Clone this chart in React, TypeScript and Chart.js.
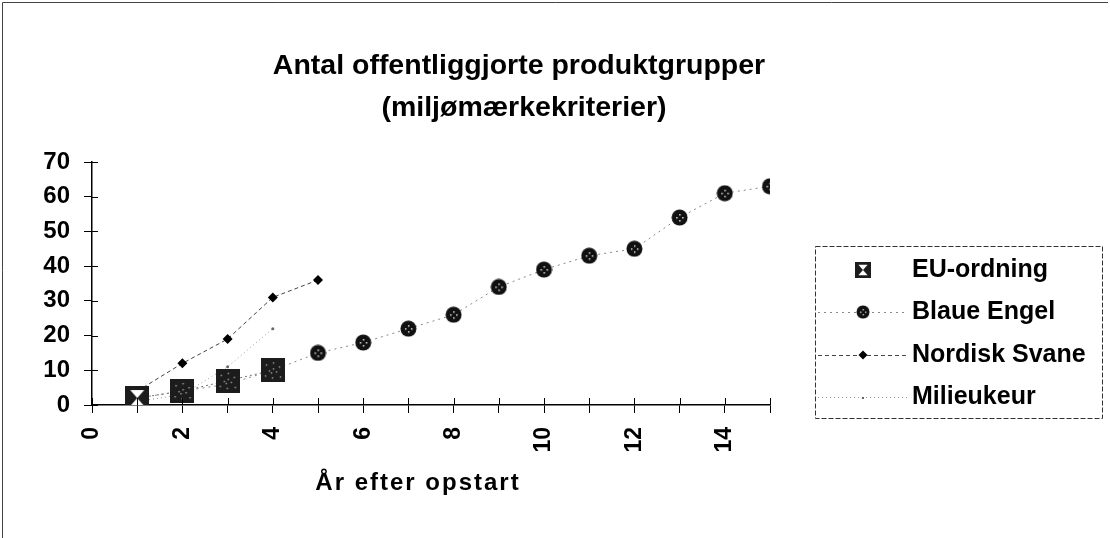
import React, { useEffect, useRef } from "react";
import { Chart, registerables } from "chart.js";

Chart.register(...registerables);

const titleLines = ["Antal offentliggjorte produktgrupper", "(miljømærkekriterier)"];
const xTitle = "År efter opstart";
const years = [1, 2, 3, 4, 5, 6, 7, 8, 9, 10, 11, 12, 13, 14, 15];
const euOrdning = [2, 4, 7, 10];
const blaueEngel = [2, 4, 6, 10, 15, 18, 22, 26, 34, 39, 43, 45, 54, 61, 63];
const nordiskSvane = [4, 12, 19, 31, 36];
const milieukeur = [1, 3, 11, 22];
const seriesNames = ["EU-ordning", "Blaue Engel", "Nordisk Svane", "Milieukeur"];

const FONT = '"Liberation Sans", Arial, sans-serif';

function toPoints(arr: number[]) {
  return arr.map((v, i) => ({ x: years[i], y: v }));
}

function makeCircle() {
  const c = document.createElement("canvas");
  c.width = 17;
  c.height = 17;
  const g = c.getContext("2d")!;
  g.fillStyle = "#111";
  g.beginPath();
  g.arc(8.5, 8.5, 8, 0, Math.PI * 2);
  g.fill();
  g.fillStyle = "#ddd";
  [[8, 5], [5, 8], [11, 8], [8, 11]].forEach(([x, y]) => g.fillRect(x, y, 1.5, 1.5));
  return c;
}

function makeSquare(cross: boolean) {
  const c = document.createElement("canvas");
  c.width = 24;
  c.height = 24;
  const g = c.getContext("2d")!;
  g.fillStyle = "#1c1c1c";
  g.fillRect(0, 0, 24, 24);
  if (cross) {
    g.fillStyle = "#fff";
    g.beginPath();
    g.moveTo(5, 4);
    g.lineTo(19, 4);
    g.lineTo(12, 12);
    g.closePath();
    g.fill();
    g.beginPath();
    g.moveTo(5, 20);
    g.lineTo(19, 20);
    g.lineTo(12, 12);
    g.closePath();
    g.fill();
  } else {
    g.fillStyle = "#bbb";
    [[5, 6], [12, 4], [18, 8], [8, 12], [15, 13], [4, 17], [11, 19], [19, 18], [12, 10], [10, 14]].forEach(([x, y]) =>
      g.fillRect(x, y, 1.3, 1.3)
    );
  }
  return c;
}

export default function App() {
  const ref = useRef<HTMLCanvasElement>(null);

  useEffect(() => {
    const canvas = ref.current!;
    const circle = makeCircle();
    const sq = makeSquare(false);
    const sqX = makeSquare(true);

    const extrasPlugin = {
      id: "extras",
      afterDraw(chart: any) {
        const ctx = chart.ctx;
        const xs = chart.scales.x;
        const ys = chart.scales.y;
        const x0 = xs.getPixelForValue(0);
        const y0 = ys.getPixelForValue(0);
        ctx.save();
        // frame
        ctx.strokeStyle = "#444";
        ctx.lineWidth = 1;
        ctx.beginPath();
        ctx.moveTo(2.5, 538);
        ctx.lineTo(2.5, 2.5);
        ctx.lineTo(1108, 2.5);
        ctx.stroke();
        // inner tick halves
        ctx.strokeStyle = "#000";
        ctx.lineWidth = 1;
        ctx.beginPath();
        for (let v = 0; v <= 15; v++) {
          const px = Math.round(xs.getPixelForValue(v)) + 0.5;
          ctx.moveTo(px, y0);
          ctx.lineTo(px, y0 - 7);
        }
        for (let v = 0; v <= 70; v += 10) {
          const py = Math.round(ys.getPixelForValue(v)) + 0.5;
          ctx.moveTo(x0, py);
          ctx.lineTo(x0 + 6, py);
        }
        ctx.stroke();
        // title
        ctx.fillStyle = "#000";
        ctx.font = "bold 28.5px " + FONT;
        ctx.textAlign = "center";
        ctx.textBaseline = "middle";
        ctx.fillText(titleLines[0], 519, 66);
        ctx.fillText(titleLines[1], 524, 108);
        // x-axis title
        ctx.font = "bold 24px " + FONT;
        (ctx as any).letterSpacing = "2px";
        ctx.fillText(xTitle, 418, 483);
        (ctx as any).letterSpacing = "0px";
        // legend
        const bx = 815, by = 246, bw = 287, bh = 172;
        ctx.strokeStyle = "#333";
        ctx.setLineDash([5, 2]);
        ctx.strokeRect(bx + 0.5, by + 0.5, bw, bh);
        const rowY = [270, 312, 355, 397];
        const mx = 863;
        const ds = chart.data.datasets;
        rowY.forEach((ry, i) => {
          const d = ds[i];
          ctx.strokeStyle = d.borderColor;
          ctx.lineWidth = 1;
          ctx.setLineDash(d.borderDash || []);
          if (i > 0) {
            ctx.beginPath();
            ctx.moveTo(818, ry + 0.5);
            ctx.lineTo(908, ry + 0.5);
            ctx.stroke();
          }
          ctx.setLineDash([]);
          if (i === 0) {
            ctx.drawImage(sqX, mx - 8, ry - 8, 16, 16);
          } else if (i === 1) {
            ctx.drawImage(circle, mx - 7, ry - 7, 14, 14);
          } else if (i === 2) {
            ctx.fillStyle = "#000";
            ctx.beginPath();
            ctx.moveTo(mx, ry - 4.5);
            ctx.lineTo(mx + 4.5, ry);
            ctx.lineTo(mx, ry + 4.5);
            ctx.lineTo(mx - 4.5, ry);
            ctx.closePath();
            ctx.fill();
          } else {
            ctx.fillStyle = "#666";
            ctx.fillRect(mx - 1, ry, 2, 2);
          }
          ctx.fillStyle = "#000";
          ctx.font = "bold 25px " + FONT;
          ctx.textAlign = "left";
          ctx.textBaseline = "middle";
          ctx.fillText(seriesNames[i], 912, ry);
        });
        ctx.restore();
      },
    };

    const chart = new Chart(canvas, {
      type: "scatter",
      data: {
        datasets: [
          {
            label: seriesNames[0],
            data: toPoints(euOrdning),
            showLine: true,
            borderColor: "#777",
            borderWidth: 1,
            borderDash: [2, 3],
            pointStyle: euOrdning.map((_, i) => (i === 0 ? sqX : sq)) as any,
            backgroundColor: "#1c1c1c",
          },
          {
            label: seriesNames[1],
            data: toPoints(blaueEngel),
            showLine: true,
            borderColor: "#888",
            borderWidth: 1,
            borderDash: [2, 4],
            pointStyle: circle as any,
            backgroundColor: "#111",
          },
          {
            label: seriesNames[2],
            data: toPoints(nordiskSvane),
            showLine: true,
            borderColor: "#444",
            borderWidth: 1,
            borderDash: [4, 3],
            pointStyle: "rectRot",
            pointRadius: 5,
            pointBorderWidth: 0,
            backgroundColor: "#000",
            pointBackgroundColor: "#000",
          },
          {
            label: seriesNames[3],
            data: toPoints(milieukeur),
            showLine: true,
            borderColor: "#999",
            borderWidth: 1,
            borderDash: [1, 3],
            pointRadius: 1.5,
            pointBorderWidth: 0,
            pointBackgroundColor: "#666",
            backgroundColor: "#666",
          },
        ],
      },
      options: {
        responsive: false,
        animation: false,
        devicePixelRatio: 1,
        layout: { padding: { top: 162, right: 340, bottom: 58, left: 0 } },
        plugins: {
          legend: { display: false },
          title: { display: false },
          tooltip: { enabled: false },
        },
        scales: {
          x: {
            type: "linear",
            min: 0,
            max: 15,
            afterFit: (s: any) => {
              s.height = 75;
            },
            ticks: {
              stepSize: 1,
              autoSkip: false,
              minRotation: 90,
              maxRotation: 90,
              padding: 14,
              color: "#000",
              font: { family: FONT, size: 23, weight: "bold" },
              callback: (v: any) => (Number(v) % 2 === 0 ? String(v) : ""),
            },
            grid: { drawOnChartArea: false, drawTicks: true, tickLength: 8, color: "#000" },
            border: { display: true, color: "#000", width: 1.5 },
            title: { display: false },
          },
          y: {
            type: "linear",
            min: 0,
            max: 70,
            afterFit: (s: any) => {
              s.width = 92;
            },
            ticks: {
              stepSize: 10,
              padding: 14,
              color: "#000",
              font: { family: FONT, size: 24, weight: "bold" },
            },
            grid: { drawOnChartArea: false, drawTicks: true, tickLength: 8, color: "#000" },
            border: { display: true, color: "#000", width: 1.5 },
          },
        },
      },
      plugins: [extrasPlugin],
    } as any);

    return () => chart.destroy();
  }, []);

  return (
    <div style={{ position: "absolute", left: 0, top: 0, width: 1110, height: 538, background: "#fff" }}>
      <canvas ref={ref} width={1110} height={538} style={{ width: 1110, height: 538, display: "block" }} />
    </div>
  );
}
